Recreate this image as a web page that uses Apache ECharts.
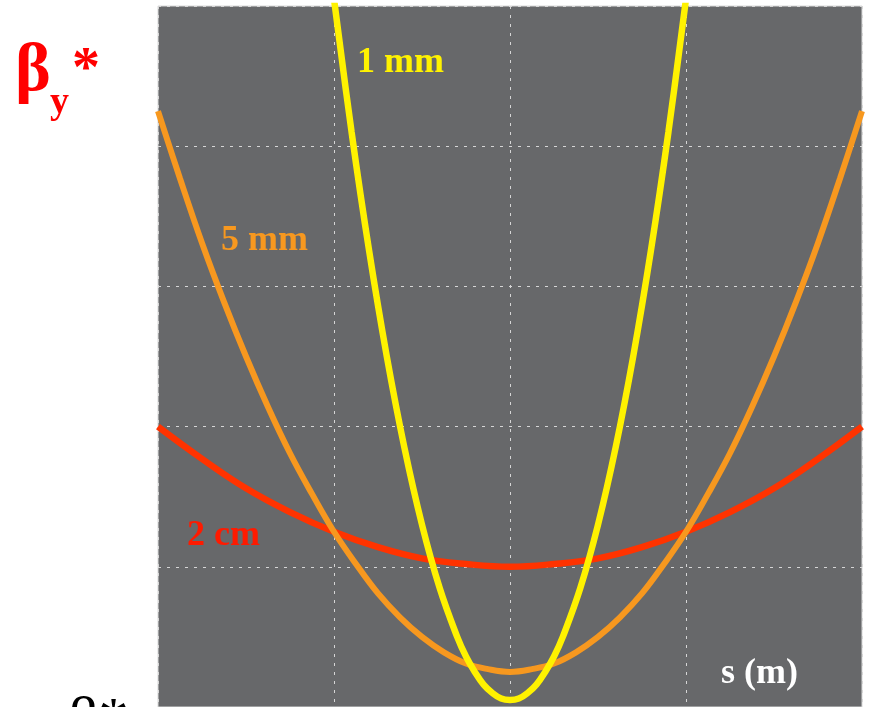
<!DOCTYPE html>
<html>
<head>
<meta charset="utf-8">
<script src="https://cdn.jsdelivr.net/npm/echarts@6/dist/echarts.min.js"></script>
<style>
  html, body { margin: 0; padding: 0; background: #ffffff; }
  #chart { width: 869px; height: 707px; }
</style>
</head>
<body>
<div id="chart"></div>
<script>
// Beta function around the interaction point, beta(s), for three beta* values
const sRed = [-2, -1.75, -1.5, -1.25, -1, -0.75, -0.5, -0.25, 0, 0.25, 0.5, 0.75, 1, 1.25, 1.5, 1.75, 2];
const betaRed = [2.0, 1.77, 1.56, 1.39, 1.25, 1.14, 1.06, 1.02, 1.0, 1.02, 1.06, 1.14, 1.25, 1.39, 1.56, 1.77, 2.0];

const sOrange = [-2, -1.875, -1.75, -1.625, -1.5, -1.375, -1.25, -1.125, -1, -0.875, -0.75, -0.625, -0.5, -0.375, -0.25, -0.125, 0,
                 0.125, 0.25, 0.375, 0.5, 0.625, 0.75, 0.875, 1, 1.125, 1.25, 1.375, 1.5, 1.625, 1.75, 1.875, 2];
const betaOrange = [4.25, 3.77, 3.31, 2.89, 2.5, 2.14, 1.81, 1.52, 1.25, 1.02, 0.81, 0.64, 0.5, 0.39, 0.31, 0.27, 0.25,
                    0.27, 0.31, 0.39, 0.5, 0.64, 0.81, 1.02, 1.25, 1.52, 1.81, 2.14, 2.5, 2.89, 3.31, 3.77, 4.25];

const sYellow = [-1.0, -0.9, -0.8, -0.7, -0.6, -0.5, -0.4, -0.3, -0.25, -0.2, -0.15, -0.1, -0.05, 0,
                 0.05, 0.1, 0.15, 0.2, 0.25, 0.3, 0.4, 0.5, 0.6, 0.7, 0.8, 0.9, 1.0];
const betaYellow = [5.05, 4.1, 3.25, 2.5, 1.85, 1.3, 0.85, 0.5, 0.36, 0.25, 0.16, 0.1, 0.06, 0.05,
                    0.06, 0.1, 0.16, 0.25, 0.36, 0.5, 0.85, 1.3, 1.85, 2.5, 3.25, 4.1, 5.05];

const curveLabels = ['2 cm', '5 mm', '1 mm'];
const axisTitleY = 'β';
const axisTitleX = 's (m)';

const pairs = (xs, ys) => xs.map((x, i) => [x, ys[i]]);

const chart = echarts.init(document.getElementById('chart'));
const serif = '"Liberation Serif", "DejaVu Serif", serif';

const splitStyle = { show: true, lineStyle: { color: '#d6d6d6', width: 1, type: [3, 6] } };

chart.setOption({
  animation: false,
  backgroundColor: '#ffffff',
  grid: {
    left: 158, right: 7, top: 6, height: 704,
    show: true, backgroundColor: '#67686a', borderColor: '#d8d8d8', borderWidth: 1
  },
  xAxis: {
    type: 'value', min: -2, max: 2, interval: 1,
    axisLine: { show: false }, axisTick: { show: false }, axisLabel: { show: false },
    splitLine: splitStyle
  },
  yAxis: {
    type: 'value', min: 0, max: 5, interval: 1,
    axisLine: { show: false }, axisTick: { show: false }, axisLabel: { show: false },
    splitLine: splitStyle
  },
  series: [
    {
      name: curveLabels[0], type: 'line', smooth: 0.4, symbol: 'none', clip: true,
      data: pairs(sRed, betaRed),
      lineStyle: { color: '#ff3300', width: 6.5 }
    },
    {
      name: curveLabels[1], type: 'line', smooth: 0.4, symbol: 'none', clip: true,
      data: pairs(sOrange, betaOrange),
      lineStyle: { color: '#f7981f', width: 6 }
    },
    {
      name: curveLabels[2], type: 'line', smooth: 0.4, symbol: 'none', clip: true,
      data: pairs(sYellow, betaYellow),
      lineStyle: { color: '#fff200', width: 6.5 }
    }
  ],
  graphic: [
    { type: 'text', left: 15, top: 38, style: { text: axisTitleY, fill: '#ff0000', font: 'bold 68px ' + serif } },
    { type: 'text', left: 50, top: 84, style: { text: 'y', fill: '#ff0000', font: 'bold 38px ' + serif } },
    { type: 'text', left: 72, top: 44, style: { text: '*', fill: '#ff0000', font: 'bold 56px ' + serif } },
    { type: 'text', left: 357, top: 45, style: { text: curveLabels[2], fill: '#fff200', font: 'bold 36px ' + serif } },
    { type: 'text', left: 221, top: 223, style: { text: curveLabels[1], fill: '#f7981f', font: 'bold 36px ' + serif } },
    { type: 'text', left: 187, top: 518, style: { text: curveLabels[0], fill: '#ff1a00', font: 'bold 36px ' + serif } },
    { type: 'text', left: 721, top: 656, style: { text: axisTitleX, fill: '#ffffff', font: 'bold 36px ' + serif } },
    { type: 'text', left: 68, top: 692, style: { text: 'β*', fill: '#000000', font: '60px ' + serif } }
  ]
});
</script>
</body>
</html>
